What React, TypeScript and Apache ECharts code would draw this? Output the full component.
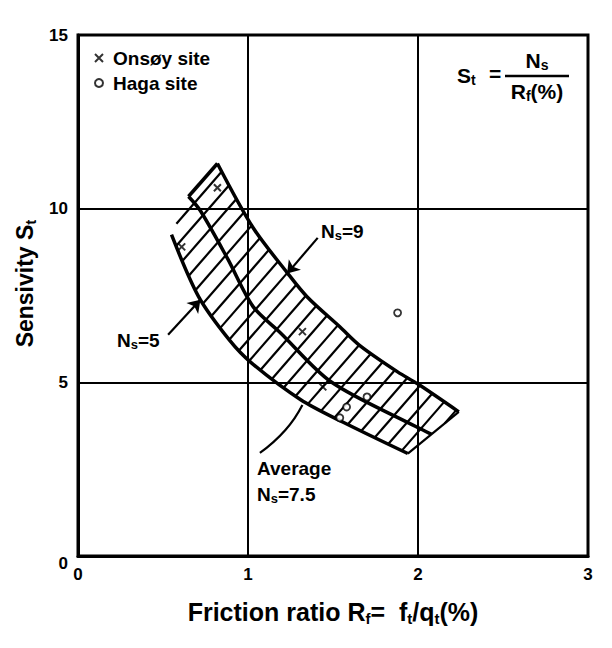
import React, { useEffect, useRef } from 'react';
import * as echarts from 'echarts';

// Axis ranges / ticks
const xMin = 0, xMax = 3, xStep = 1;
const yMin = 0, yMax = 15, yStep = 5;

// Band boundary curves: [R_f (%), S_t]
const upperNs9: number[][] = [[0.82, 11.3], [1.03, 9.45], [1.23, 8.16], [1.35, 7.45], [1.54, 6.6], [1.66, 6.05], [1.88, 5.3], [2.0, 4.95], [2.24, 4.15]];
const averageNs75: number[][] = [[0.65, 10.35], [0.72, 9.94], [0.88, 8.56], [1.03, 7.18], [1.19, 6.43], [1.49, 5.01], [1.99, 3.72], [2.08, 3.5]];
const lowerNs5: number[][] = [[0.55, 9.25], [0.71, 7.46], [0.89, 6.22], [1.02, 5.56], [1.31, 4.5], [1.56, 3.85], [1.94, 2.95]];

// Site data
const onsoy: number[][] = [[0.82, 10.6], [0.61, 8.9], [1.32, 6.46], [1.44, 4.87]];
const haga: number[][] = [[1.88, 7.0], [1.54, 3.98], [1.58, 4.29], [1.7, 4.58]];

// Annotation leaders
const arrowNs9: number[][] = [[1.41, 9.16], [1.23, 8.13]];
const arrowNs5: number[][] = [[0.53, 6.37], [0.72, 7.38]];
const averageLeader: number[][] = [[1.07, 2.97], [1.22, 3.63], [1.32, 4.35]];

const FONT = 'Liberation Sans, Arial, Helvetica, sans-serif';
const BLACK = '#000';

function subRich(size: number) {
  return {
    sub: { fontSize: size, lineHeight: size, verticalAlign: 'bottom', fontWeight: 'bold', fontFamily: FONT, color: BLACK, fill: BLACK },
  };
}

function hatchRender(params: any, api: any) {
  if (params.dataIndex !== 0) return null;
  const polyData = [...upperNs9, ...lowerNs5.slice().reverse(), averageNs75[0]];
  const poly = polyData.map((p) => api.coord(p));
  const k = 1.15;
  const nl = Math.hypot(k, 1);
  const n = [k / nl, 1 / nl];
  const u = [1 / nl, -k / nl];
  const proj = poly.map((p: number[]) => p[0] * n[0] + p[1] * n[1]);
  const cmin = Math.min(...proj);
  const cmax = Math.max(...proj);
  const step = 14.5;
  const children: any[] = [];
  for (let c = cmin + step * 0.6; c < cmax; c += step) {
    const pts: number[][] = [];
    for (let i = 0; i < poly.length; i++) {
      const j = (i + 1) % poly.length;
      const fa = proj[i] - c;
      const fb = proj[j] - c;
      if ((fa < 0) !== (fb < 0)) {
        const t = fa / (fa - fb);
        pts.push([poly[i][0] + t * (poly[j][0] - poly[i][0]), poly[i][1] + t * (poly[j][1] - poly[i][1])]);
      }
    }
    pts.sort((p, q) => (p[0] * u[0] + p[1] * u[1]) - (q[0] * u[0] + q[1] * u[1]));
    for (let m = 0; m + 1 < pts.length; m += 2) {
      children.push({
        type: 'line',
        shape: { x1: pts[m][0], y1: pts[m][1], x2: pts[m + 1][0], y2: pts[m + 1][1] },
        style: { stroke: BLACK, lineWidth: 2.2 },
      });
    }
  }
  return { type: 'group', children };
}

const crossPath = 'path://M0,0L10,10M10,0L0,10';

export default function App() {
  const ref = useRef<HTMLDivElement>(null);
  useEffect(() => {
    if (!ref.current) return;
    const chart = echarts.init(ref.current, undefined, { renderer: 'svg' });
    const curveLine = (name: string, data: number[][], width: number) => ({
      name,
      type: 'line',
      data,
      smooth: 0.3,
      showSymbol: false,
      symbol: 'none',
      lineStyle: { color: BLACK, width },
      z: 4,
      silent: true,
    });
    const textBase = { fontFamily: FONT, fill: BLACK, fontWeight: 'bold' };
    const option: any = {
      animation: false,
      backgroundColor: '#fff',
      textStyle: { fontFamily: FONT, color: BLACK, fontWeight: 'bold' },
      grid: { left: 78, right: 24, top: 35, bottom: 92, show: true, borderColor: BLACK, borderWidth: 3, backgroundColor: 'transparent' },
      xAxis: {
        type: 'value', min: xMin, max: xMax, interval: xStep,
        axisLine: { show: true, lineStyle: { color: BLACK, width: 3 } },
        axisTick: { show: false },
        splitLine: { show: true, lineStyle: { color: BLACK, width: 2 } },
        axisLabel: { color: BLACK, fontSize: 17, fontWeight: 'bold', margin: 10, fontFamily: FONT },
        name: 'Friction ratio R{sub|f}=  f{sub|t}/q{sub|t}(%)',
        nameLocation: 'middle',
        nameGap: 42,
        nameTextStyle: { fontSize: 25, lineHeight: 28, fontWeight: 'bold', color: BLACK, fontFamily: FONT, rich: subRich(15) },
      },
      yAxis: {
        type: 'value', min: yMin, max: yMax, interval: yStep,
        axisLine: { show: true, lineStyle: { color: BLACK, width: 3 } },
        axisTick: { show: false },
        splitLine: { show: true, lineStyle: { color: BLACK, width: 2 } },
        axisLabel: {
          color: BLACK, fontSize: 17, fontWeight: 'bold', margin: 10, fontFamily: FONT,
          formatter: (v: number) => (v === 0 ? '{z|0}' : String(v)),
          rich: { z: { fontSize: 17, fontWeight: 'bold', padding: [14, 0, 0, 0], color: BLACK, fontFamily: FONT } },
        },
        name: 'Sensivity S{sub|t}',
        nameLocation: 'middle',
        nameGap: 39,
        nameTextStyle: { fontSize: 23, lineHeight: 26, fontWeight: 'bold', color: BLACK, fontFamily: FONT, padding: [0, 0, 0, 24], rich: subRich(15) },
      },
      legend: {
        data: [
          { name: 'Onsøy site', icon: crossPath, itemStyle: { color: 'rgba(0,0,0,0)', borderColor: BLACK, borderWidth: 2 } },
          { name: 'Haga site', icon: 'circle', itemStyle: { color: '#fff', borderColor: BLACK, borderWidth: 2 } },
        ],
        orient: 'vertical',
        left: 94,
        top: 48,
        padding: 0,
        itemWidth: 8,
        itemHeight: 8,
        itemGap: 5,
        selectedMode: false,
        textStyle: { fontSize: 19, lineHeight: 20, fontWeight: 'bold', color: BLACK, fontFamily: FONT, padding: [0, 0, 0, 5] },
      },
      graphic: [
        // formula S_t = N_s / R_f(%)
        { type: 'text', x: 457, y: 75, style: { ...textBase, text: 'S{sub|t}', fontSize: 21, lineHeight: 24, verticalAlign: 'middle', rich: subRich(14) } },
        { type: 'text', x: 495, y: 73, style: { ...textBase, text: '=', fontSize: 21, align: 'center', verticalAlign: 'middle' } },
        { type: 'line', shape: { x1: 505, y1: 76, x2: 569, y2: 76 }, style: { stroke: BLACK, lineWidth: 2.5 } },
        { type: 'text', x: 537, y: 60, style: { ...textBase, text: 'N{sub|s}', fontSize: 21, lineHeight: 24, align: 'center', verticalAlign: 'middle', rich: subRich(14) } },
        { type: 'text', x: 537, y: 91, style: { ...textBase, text: 'R{sub|f}(%)', fontSize: 21, lineHeight: 24, align: 'center', verticalAlign: 'middle', rich: subRich(14) } },
        // curve labels
        { type: 'text', x: 321, y: 231, style: { ...textBase, text: 'N{sub|s}=9', fontSize: 19, lineHeight: 22, verticalAlign: 'middle', rich: subRich(13) } },
        { type: 'text', x: 117, y: 340, style: { ...textBase, text: 'N{sub|s}=5', fontSize: 19, lineHeight: 22, verticalAlign: 'middle', rich: subRich(13) } },
        { type: 'text', x: 257, y: 468, style: { ...textBase, text: 'Average', fontSize: 19, verticalAlign: 'middle' } },
        { type: 'text', x: 257, y: 494, style: { ...textBase, text: 'N{sub|s}=7.5', fontSize: 19, lineHeight: 22, verticalAlign: 'middle', rich: subRich(13) } },
      ],
      series: [
        {
          name: 'hatch',
          type: 'custom',
          renderItem: hatchRender,
          data: [upperNs9[0]],
          z: 2,
          silent: true,
        },
        curveLine('N_s=9', upperNs9, 3.5),
        curveLine('Average N_s=7.5', averageNs75, 3.5),
        curveLine('N_s=5', lowerNs5, 3.5),
        {
          name: 'band ends',
          type: 'lines',
          coordinateSystem: 'cartesian2d',
          data: [
            { coords: [upperNs9[0], averageNs75[0]], lineStyle: { width: 3.5 } },
            { coords: [upperNs9[upperNs9.length - 1], lowerNs5[lowerNs5.length - 1]], lineStyle: { width: 2.2 } },
          ],
          lineStyle: { color: BLACK, width: 2, opacity: 1 },
          z: 4,
          silent: true,
        },
        {
          name: 'arrows',
          type: 'lines',
          coordinateSystem: 'cartesian2d',
          symbol: ['none', 'arrow'],
          symbolSize: 12,
          data: [{ coords: arrowNs9 }, { coords: arrowNs5 }],
          lineStyle: { color: BLACK, width: 2.2, opacity: 1 },
          z: 5,
          silent: true,
        },
        {
          name: 'average leader',
          type: 'line',
          data: averageLeader,
          smooth: 0.5,
          showSymbol: false,
          symbol: 'none',
          lineStyle: { color: BLACK, width: 2.2 },
          z: 4,
          silent: true,
        },
        {
          name: 'Onsøy site',
          type: 'scatter',
          data: onsoy,
          symbol: crossPath,
          symbolSize: 7,
          itemStyle: { color: 'rgba(0,0,0,0)', borderColor: BLACK, borderWidth: 2 },
          z: 6,
        },
        {
          name: 'Haga site',
          type: 'scatter',
          data: haga,
          symbol: 'circle',
          symbolSize: 7,
          itemStyle: { color: '#fff', borderColor: BLACK, borderWidth: 1.8 },
          z: 6,
        },
      ],
    };
    chart.setOption(option);
    return () => chart.dispose();
  }, []);
  return <div ref={ref} style={{ position: 'fixed', left: 0, top: 0, width: 612, height: 648, background: '#fff' }} />;
}
